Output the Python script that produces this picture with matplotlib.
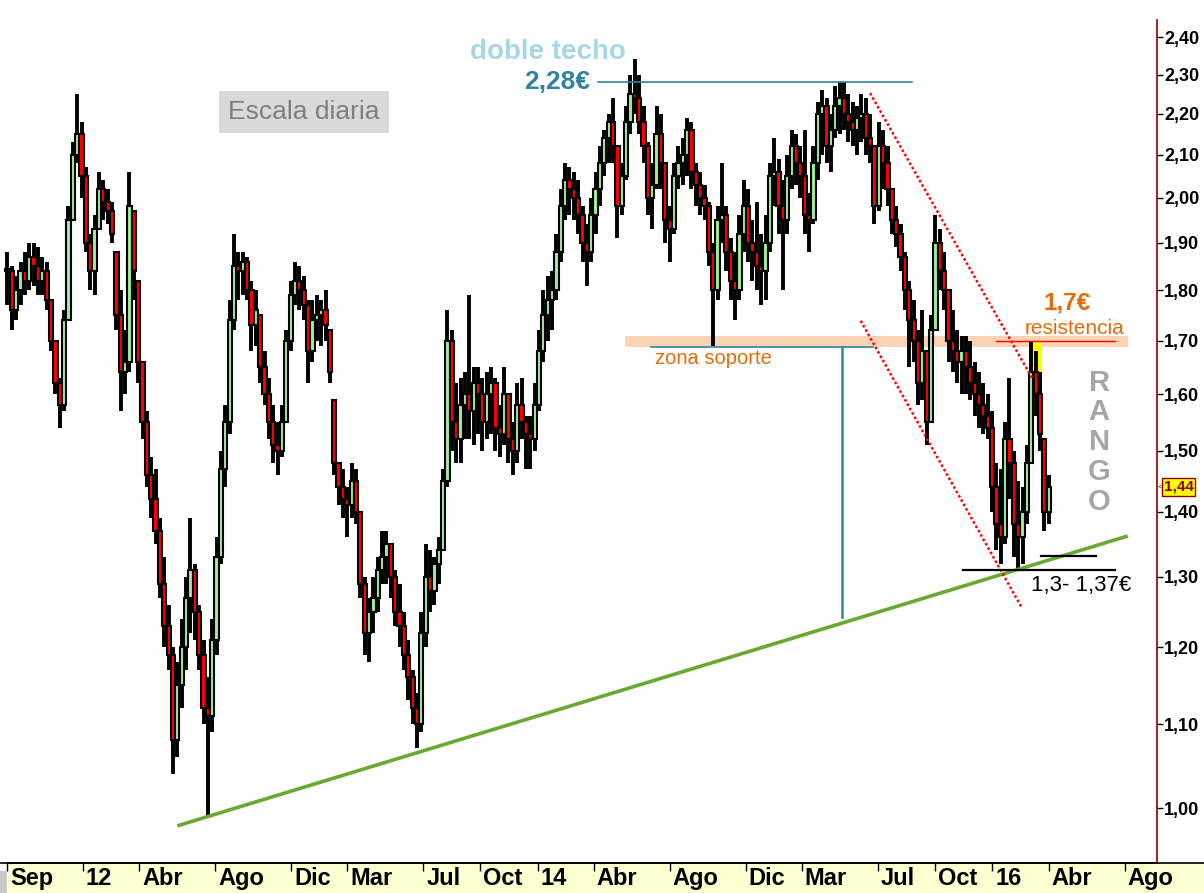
import numpy as np
import pandas as pd
import matplotlib
matplotlib.use("Agg")
import matplotlib.pyplot as plt
import matplotlib.dates as mdates
import matplotlib.transforms as mtransforms
from matplotlib.lines import Line2D
from matplotlib.patches import Rectangle
from matplotlib.ticker import NullLocator, NullFormatter

plt.rcParams['font.family'] = ['Liberation Sans', 'DejaVu Sans']

fechas = pd.date_range('2011-09-02', periods=240, freq='7D')

maximos = [
    1.88, 1.85, 1.83, 1.86, 1.88, 1.90, 1.90, 1.89, 1.87, 1.86,
    1.78, 1.70, 1.63, 1.76, 1.98, 2.13, 2.25, 2.18, 2.07, 1.92,
    1.96, 2.06, 2.04, 2.02, 1.99, 1.88, 1.80, 1.72, 2.06, 1.97,
    1.82, 1.66, 1.57, 1.49, 1.47, 1.39, 1.33, 1.26, 1.20, 1.18,
    1.24, 1.30, 1.39, 1.32, 1.26, 1.21, 1.16, 1.24, 1.36, 1.50,
    1.58, 1.78, 1.92, 1.88, 1.88, 1.87, 1.82, 1.80, 1.75, 1.68,
    1.63, 1.58, 1.55, 1.58, 1.72, 1.82, 1.86, 1.85, 1.83, 1.78,
    1.78, 1.79, 1.78, 1.80, 1.72, 1.59, 1.48, 1.47, 1.44, 1.48,
    1.47, 1.40, 1.30, 1.27, 1.30, 1.33, 1.37, 1.37, 1.35, 1.31,
    1.29, 1.25, 1.21, 1.17, 1.14, 1.25, 1.35, 1.34, 1.33, 1.36,
    1.47, 1.76, 1.72, 1.62, 1.63, 1.64, 1.79, 1.65, 1.65, 1.63,
    1.64, 1.65, 1.63, 1.58, 1.65, 1.60, 1.55, 1.62, 1.63, 1.56,
    1.56, 1.62, 1.72, 1.80, 1.83, 1.84, 1.92, 2.02, 2.08, 2.07,
    2.06, 2.04, 1.98, 1.94, 2.00, 2.06, 2.12, 2.16, 2.20, 2.24,
    2.12, 2.08, 2.22, 2.30, 2.34, 2.30, 2.22, 2.13, 2.08, 2.22,
    2.20, 2.08, 1.98, 2.08, 2.12, 2.14, 2.19, 2.18, 2.08, 2.06,
    2.03, 1.99, 1.90, 1.98, 2.08, 1.98, 1.91, 1.88, 1.96, 2.04,
    2.02, 1.95, 1.99, 1.92, 1.96, 2.08, 2.14, 2.09, 2.04, 2.10,
    2.16, 2.15, 2.12, 2.16, 2.01, 2.12, 2.23, 2.26, 2.24, 2.20,
    2.27, 2.28, 2.28, 2.25, 2.23, 2.22, 2.25, 2.24, 2.20, 2.12,
    2.18, 2.16, 2.12, 2.02, 1.98, 1.94, 1.88, 1.82, 1.78, 1.72,
    1.76, 1.68, 1.75, 1.96, 1.93, 1.88, 1.80, 1.76, 1.72, 1.71,
    1.71, 1.70, 1.66, 1.64, 1.62, 1.60, 1.57, 1.48, 1.47, 1.55,
    1.63, 1.50, 1.45, 1.44, 1.51, 1.70, 1.68, 1.64, 1.52, 1.46,
]
minimos = [
    1.77, 1.72, 1.74, 1.77, 1.79, 1.80, 1.81, 1.79, 1.79, 1.76,
    1.68, 1.60, 1.54, 1.57, 1.74, 1.95, 2.08, 2.00, 1.88, 1.80,
    1.79, 1.93, 1.95, 1.94, 1.90, 1.72, 1.57, 1.60, 1.64, 1.78,
    1.62, 1.52, 1.44, 1.39, 1.35, 1.27, 1.20, 1.17, 1.04, 1.06,
    1.12, 1.17, 1.22, 1.21, 1.17, 1.10, 0.99, 1.09, 1.19, 1.32,
    1.44, 1.53, 1.72, 1.78, 1.79, 1.78, 1.68, 1.69, 1.62, 1.58,
    1.52, 1.48, 1.46, 1.49, 1.55, 1.68, 1.77, 1.76, 1.74, 1.62,
    1.66, 1.70, 1.69, 1.70, 1.62, 1.46, 1.41, 1.39, 1.36, 1.39,
    1.38, 1.27, 1.19, 1.18, 1.22, 1.25, 1.29, 1.29, 1.27, 1.23,
    1.20, 1.17, 1.13, 1.10, 1.07, 1.09, 1.20, 1.25, 1.26, 1.29,
    1.34, 1.44, 1.50, 1.48, 1.48, 1.52, 1.52, 1.51, 1.53, 1.50,
    1.52, 1.53, 1.50, 1.49, 1.51, 1.48, 1.46, 1.48, 1.52, 1.47,
    1.47, 1.50, 1.57, 1.66, 1.70, 1.72, 1.78, 1.86, 1.95, 1.96,
    1.95, 1.92, 1.86, 1.81, 1.86, 1.92, 1.98, 2.05, 2.08, 2.08,
    1.91, 1.96, 2.04, 2.15, 2.20, 2.15, 2.08, 1.96, 1.93, 2.02,
    2.02, 1.90, 1.86, 1.92, 2.02, 2.03, 2.05, 2.02, 1.98, 1.96,
    1.95, 1.85, 1.69, 1.78, 1.90, 1.84, 1.78, 1.74, 1.78, 1.88,
    1.86, 1.82, 1.80, 1.77, 1.78, 1.88, 1.98, 1.92, 1.80, 1.92,
    2.02, 2.03, 2.00, 1.92, 1.88, 1.94, 2.04, 2.10, 2.08, 2.06,
    2.14, 2.15, 2.16, 2.13, 2.12, 2.10, 2.13, 2.10, 2.08, 1.94,
    1.97, 2.02, 1.98, 1.92, 1.89, 1.84, 1.76, 1.65, 1.66, 1.58,
    1.59, 1.51, 1.55, 1.72, 1.80, 1.76, 1.66, 1.64, 1.62, 1.60,
    1.60, 1.59, 1.56, 1.54, 1.53, 1.52, 1.40, 1.34, 1.32, 1.35,
    1.42, 1.33, 1.31, 1.32, 1.38, 1.48, 1.56, 1.50, 1.37, 1.38,
]
cierres = [
    1.84, 1.76, 1.80, 1.84, 1.82, 1.87, 1.85, 1.82, 1.84, 1.78,
    1.70, 1.62, 1.58, 1.74, 1.95, 2.10, 2.15, 2.05, 1.90, 1.84,
    1.93, 2.02, 1.99, 1.97, 1.92, 1.75, 1.64, 1.66, 1.98, 1.84,
    1.66, 1.55, 1.46, 1.42, 1.37, 1.29, 1.23, 1.19, 1.08, 1.15,
    1.20, 1.27, 1.31, 1.25, 1.19, 1.12, 1.11, 1.21, 1.33, 1.47,
    1.55, 1.74, 1.85, 1.84, 1.86, 1.80, 1.73, 1.76, 1.65, 1.60,
    1.55, 1.51, 1.50, 1.55, 1.70, 1.79, 1.82, 1.80, 1.77, 1.68,
    1.74, 1.75, 1.76, 1.73, 1.64, 1.48, 1.44, 1.42, 1.41, 1.45,
    1.40, 1.29, 1.22, 1.25, 1.27, 1.31, 1.33, 1.35, 1.30, 1.25,
    1.23, 1.19, 1.16, 1.12, 1.10, 1.22, 1.30, 1.28, 1.32, 1.34,
    1.45, 1.70, 1.55, 1.52, 1.58, 1.60, 1.57, 1.62, 1.60, 1.55,
    1.60, 1.62, 1.54, 1.53, 1.60, 1.52, 1.50, 1.58, 1.55, 1.53,
    1.52, 1.58, 1.68, 1.75, 1.78, 1.80, 1.88, 1.98, 2.04, 2.02,
    2.00, 1.96, 1.90, 1.88, 1.96, 2.02, 2.08, 2.14, 2.18, 2.12,
    1.98, 2.05, 2.18, 2.25, 2.24, 2.18, 2.12, 2.00, 2.03, 2.15,
    2.08, 1.95, 1.93, 2.05, 2.08, 2.10, 2.16, 2.06, 2.03, 2.00,
    1.98, 1.88, 1.80, 1.95, 1.96, 1.88, 1.82, 1.80, 1.92, 1.98,
    1.90, 1.88, 1.85, 1.84, 1.90, 2.05, 2.06, 1.98, 1.95, 2.05,
    2.12, 2.08, 2.05, 1.96, 1.95, 2.08, 2.20, 2.22, 2.12, 2.16,
    2.22, 2.24, 2.20, 2.18, 2.16, 2.19, 2.20, 2.14, 2.12, 1.98,
    2.12, 2.08, 2.02, 1.95, 1.92, 1.87, 1.80, 1.74, 1.70, 1.62,
    1.68, 1.55, 1.72, 1.90, 1.84, 1.80, 1.70, 1.68, 1.66, 1.68,
    1.65, 1.62, 1.60, 1.58, 1.56, 1.54, 1.44, 1.38, 1.36, 1.52,
    1.48, 1.38, 1.36, 1.40, 1.48, 1.64, 1.60, 1.53, 1.40, 1.44,
]

meses = ['2011-09-01', '2012-01-01', '2012-04-01', '2012-08-01', '2012-12-01',
         '2013-03-01', '2013-07-01', '2013-10-01', '2014-01-01', '2014-04-01',
         '2014-08-01', '2014-12-01', '2015-03-01', '2015-07-01', '2015-10-01',
         '2016-01-01', '2016-04-01', '2016-08-01']
meses_txt = ['Sep', '12', 'Abr', 'Ago', 'Dic', 'Mar', 'Jul', 'Oct', '14',
             'Abr', 'Ago', 'Dic', 'Mar', 'Jul', 'Oct', '16', 'Abr', 'Ago']

precios_eje = [1.00, 1.10, 1.20, 1.30, 1.40, 1.50, 1.60, 1.70, 1.80,
               1.90, 2.00, 2.10, 2.20, 2.30, 2.40]
precios_txt = ['1,00', '1,10', '1,20', '1,30', '1,40', '1,50', '1,60', '1,70',
               '1,80', '1,90', '2,00', '2,10', '2,20', '2,30', '2,40']

ultimo = 1.44
techo = 2.28
soporte = [1.688, 1.709]
resistencia = 1.70
rango = [1.31, 1.332]
objetivo = 1.242
directriz = [0.98, 1.362]
canal_sup = [2.252, 1.630]
canal_inf = [1.739, 1.255]

d = mdates.datestr2num
naranja = '#E46C0A'
azul = '#31849B'

fig = plt.figure(figsize=(12.04, 8.93), dpi=100)
fig.patch.set_facecolor('white')
ax = fig.add_axes([0, 30 / 893, 1157 / 1204, 843 / 893])
ax.set_yscale('log')
ax.set_xlim(d('2011-08-21'), d('2016-09-22'))
ax.set_ylim(0.9395, 2.447)

# banda amarilla del eje de fechas (por debajo de los ejes)
fig.patches.append(Rectangle((8 / 1204, 0), 1, 30 / 893, transform=fig.transFigure,
                             facecolor='#FFFFD2', edgecolor='none', zorder=-2))
fig.patches.append(Rectangle((0, 0), 7 / 1204, 22 / 893, transform=fig.transFigure,
                             facecolor='#C8C8C8', edgecolor='none', zorder=-2))
fig.lines.append(Line2D([8 / 1204, 1], [30 / 893, 30 / 893], transform=fig.transFigure,
                        color='black', lw=1.2, zorder=5))
ax.patch.set_alpha(0)

# velas
x = mdates.date2num(fechas)
c = np.array(cierres)
h = np.array(maximos)
l = np.array(minimos)
o = np.clip(np.r_[c[0], c[:-1]], l, h)
sube = c >= o
ax.vlines(x, l, h, color='black', lw=2.8, zorder=3)
ax.bar(x, np.maximum(np.abs(c - o), 0.005), bottom=np.minimum(o, c), width=6.8,
       color=np.where(sube, '#9CF09C', '#FF0000'), edgecolor='black',
       linewidth=1.5, zorder=4)

# zonas
ax.fill_between([d('2014-05-21'), d('2016-08-06')], soporte[0], soporte[1],
                color='#FAD3B5', lw=0, zorder=1)
ax.fill_between([d('2016-02-29'), d('2016-03-21')], 1.596, resistencia,
                color='#FFFF00', lw=0, zorder=2)

# lineas
ax.plot([d('2014-04-08'), d('2015-08-25')], [techo, techo], color=azul, lw=1.2, zorder=5)
ax.plot([d('2014-07-02'), d('2015-06-24')], [soporte[0], soporte[0]], color=azul, lw=1.2, zorder=5)
ax.plot([d('2015-05-05'), d('2015-05-05')], [soporte[0], objetivo], color=azul, lw=1.8, zorder=5)
ax.plot([d('2012-06-01'), d('2016-08-06')], directriz, color='#6AA832', lw=2.6,
        solid_capstyle='butt', zorder=6)
ax.plot([d('2015-06-19'), d('2016-03-05')], canal_sup, color='red', lw=1.8,
        ls=(0, (1, 1)), zorder=6)
ax.plot([d('2015-06-04'), d('2016-02-18')], canal_inf, color='red', lw=1.8,
        ls=(0, (1, 1)), zorder=6)
ax.plot([d('2016-01-07'), d('2016-07-16')], [resistencia, resistencia], color='red', lw=1, zorder=6)
ax.plot([d('2015-11-15'), d('2016-07-16')], [rango[0], rango[0]], color='black', lw=1.6, zorder=6)
ax.plot([d('2016-03-19'), d('2016-06-16')], [rango[1], rango[1]], color='black', lw=1.6, zorder=6)

# textos
ax.text(d('2012-12-21'), 2.204, 'Escala diaria', fontsize=19, color='#7F7F7F',
        ha='center', va='center',
        bbox=dict(boxstyle='square,pad=0.35', fc='#D9D9D9', ec='none'))
ax.text(d('2014-01-17'), 2.36, 'doble techo', fontsize=20, fontweight='bold',
        color='#A8D6E6', ha='center', va='center')
ax.text(d('2014-03-26'), techo, '2,28€', fontsize=19, fontweight='bold',
        color=azul, ha='right', va='center')
ax.text(d('2014-10-10'), 1.667, 'zona soporte', fontsize=14.5, color=naranja,
        ha='center', va='center')
ax.text(d('2016-04-30'), 1.775, '1,7€', fontsize=17.5, fontweight='bold',
        color=naranja, ha='center', va='center')
ax.text(d('2016-05-13'), 1.724, 'resistencia', fontsize=15, color=naranja,
        ha='center', va='center')
ax.text(d('2016-06-21'), 1.515, 'R\nA\nN\nG\nO', fontsize=21, fontweight='bold',
        color='#A6A6A6', ha='center', va='center', linespacing=1.08)
ax.text(d('2016-03-04'), 1.288, '1,3- 1,37€', fontsize=16, color='black',
        ha='left', va='center')

# ultimo precio
borde = mtransforms.blended_transform_factory(ax.transAxes, ax.transData)
ax.text(1.0057, ultimo, '1,44', transform=borde, fontsize=11, fontweight='bold',
        color='#8B0000', ha='left', va='center',
        bbox=dict(boxstyle='square,pad=0.12', fc='#FFFF00', ec='#8B0000', lw=1))
ax.text(1.0003, ultimo, '<', transform=borde, fontsize=6, color='#8B0000',
        ha='left', va='center')

# ejes
for s in ['left', 'top']:
    ax.spines[s].set_visible(False)
ax.spines['right'].set_color('#8B0000')
ax.spines['right'].set_linewidth(1.2)
ax.spines['bottom'].set_color('black')
ax.spines['bottom'].set_linewidth(1.2)

ax.yaxis.tick_right()
ax.set_yticks(precios_eje)
ax.set_yticklabels(precios_txt, fontsize=13, fontweight='bold')
ax.yaxis.set_minor_locator(NullLocator())
ax.yaxis.set_minor_formatter(NullFormatter())
ax.tick_params(axis='y', direction='out', length=4, width=1, pad=1, color='black')

ax.set_xticks(d(meses))
ax.tick_params(axis='x', direction='out', length=6, width=1, color='black',
               labelbottom=False)
abajo = mtransforms.blended_transform_factory(ax.transData, ax.transAxes)
desplaza = mtransforms.ScaledTranslation(3 / 100, 0, fig.dpi_scale_trans)
for fecha, txt in zip(meses, meses_txt):
    ax.text(d(fecha), -0.0185, txt, transform=abajo + desplaza, fontsize=17,
            fontweight='bold', ha='left', va='center', clip_on=False)

fig.savefig('out.png', dpi=100)
